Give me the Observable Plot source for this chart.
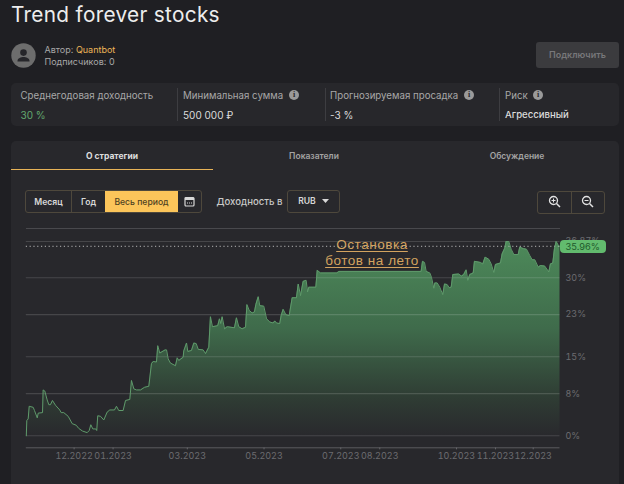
<!DOCTYPE html>
<html lang="ru">
<head>
<meta charset="utf-8">
<script src="https://cdn.jsdelivr.net/npm/d3@7"></script>
<script src="https://cdn.jsdelivr.net/npm/@observablehq/plot@0.6"></script>
<style>
html,body{margin:0;padding:0;background:#1f1f23;overflow:hidden}
#page{position:relative;width:624px;height:484px;font-family:Inter,"Noto Sans",sans-serif;color:#a8a8a8;overflow:hidden}
#page>*,.abs{position:absolute}
.t{white-space:nowrap;line-height:1}
.c{transform:translateX(-50%)}
.btn{box-sizing:border-box;height:100%;display:flex;align-items:center;justify-content:center;font-size:8.6px;font-weight:600;color:#d8d8d8}
.info{width:10px;height:10px;border-radius:50%;background:#9a9a9a;color:#26262a;font:700 8px/10px "Liberation Serif",serif;text-align:center}
#chart svg{display:block;background:transparent}
</style>
</head>
<body>
<div id="page">
  <div class="t" style="left:11px;top:5px;font-size:20.8px;color:#ededed;letter-spacing:.3px">Trend forever stocks</div>

  <svg style="left:11px;top:43px" width="25" height="25" viewBox="0 0 25 25">
    <circle cx="12.5" cy="12.5" r="12.2" fill="#6d6d6d"/>
    <circle cx="12.5" cy="9.6" r="3.3" fill="#26262a"/>
    <path d="M6.5 18c0-3 3.5-4 6-4s6 1 6 4v.5h-12z" fill="#26262a"/>
  </svg>
  <div class="t" style="left:44.5px;top:45px;font-size:9px">Автор: <span style="color:#eeb658">Quantbot</span></div>
  <div class="t" style="left:44.5px;top:57px;font-size:9px">Подписчиков: 0</div>
  <div style="left:536px;top:42px;width:83px;height:26px;background:#3b3b3e;border-radius:3px;color:#77777a;font-size:9px;font-weight:600;line-height:26px;text-align:center">Подключить</div>

  <div style="left:11px;top:83px;width:608px;height:43px;background:#27272b;border-radius:5px"></div>
  <div style="left:177px;top:88px;width:1px;height:33px;background:#3d3d41"></div>
  <div style="left:324.5px;top:88px;width:1px;height:33px;background:#3d3d41"></div>
  <div style="left:499px;top:88px;width:1px;height:33px;background:#3d3d41"></div>
  <div class="t" style="left:20.5px;top:90.5px;font-size:9.7px">Среднегодовая доходность</div>
  <div class="t" style="left:183px;top:90.5px;font-size:9.7px">Минимальная сумма</div>
  <div class="t" style="left:330px;top:90.5px;font-size:9.7px">Прогнозируемая просадка</div>
  <div class="t" style="left:505px;top:90.5px;font-size:9.7px">Риск</div>
  <div class="info" style="left:289px;top:90px">i</div>
  <div class="info" style="left:464px;top:90px">i</div>
  <div class="info" style="left:533px;top:90px">i</div>
  <div class="t" style="left:20.5px;top:109.5px;font-size:10px;color:#62a96f">30 %</div>
  <div class="t" style="left:183px;top:109.5px;font-size:10px;color:#dcdcdc">500 000 ₽</div>
  <div class="t" style="left:330px;top:109.5px;font-size:10px;color:#dcdcdc">-3 %</div>
  <div class="t" style="left:505px;top:109.5px;font-size:9.6px;color:#dcdcdc;font-weight:500">Агрессивный</div>

  <div style="left:11px;top:141px;width:608px;height:343px;background:#28282c;border-radius:5px 5px 0 0"></div>
  <div class="t c" style="left:112px;top:152px;font-size:8.5px;font-weight:700;color:#dedede">О стратегии</div>
  <div class="t c" style="left:314px;top:152px;font-size:8.5px;font-weight:600;color:#a4a4a4">Показатели</div>
  <div class="t c" style="left:517px;top:152px;font-size:8.5px;font-weight:600;color:#a4a4a4">Обсуждение</div>
  <div style="left:11px;top:168.5px;width:202px;height:1.2px;background:#e7b357"></div>

  <div style="left:25px;top:190px;width:177px;height:23px;box-sizing:border-box;border:1px solid #4e483c;border-radius:3px;display:flex;overflow:hidden">
    <div class="btn" style="width:46px;border-right:1px solid #4e483c">Месяц</div>
    <div class="btn" style="width:33px">Год</div>
    <div class="btn" style="width:73px;background:#fcc55a;color:#4f4222;font-weight:500">Весь период</div>
    <div class="btn" style="flex:1">
      <svg width="11" height="11" viewBox="0 0 11 11"><rect x="1" y="1.5" width="9" height="8.5" rx="1" fill="none" stroke="#d8d8d8" stroke-width="1.2"/><rect x="1" y="1.5" width="9" height="2.5" fill="#d8d8d8"/><path d="M3 7h5" stroke="#d8d8d8" stroke-dasharray="1 1"/></svg>
    </div>
  </div>
  <div class="t" style="left:216.5px;top:196.5px;font-size:9.6px;font-weight:500;color:#c8c8c8">Доходность в</div>
  <div style="left:287px;top:189.5px;width:53px;height:23px;box-sizing:border-box;border:1px solid #4e483c;border-radius:3px" class="btn">RUB<svg style="margin-left:6px" width="7" height="4" viewBox="0 0 7 4"><path d="M0 0h7L3.5 4z" fill="#d8d8d8"/></svg></div>
  <div style="left:537px;top:190.5px;width:68px;height:23px;box-sizing:border-box;border:1px solid #4e483c;border-radius:3px"></div>
  <div style="left:571px;top:191px;width:1px;height:22px;background:#4e483c"></div>
  <svg style="left:548px;top:195px" width="13" height="13" viewBox="0 0 13 13"><circle cx="5.5" cy="5.5" r="4" fill="none" stroke="#e2e2e2" stroke-width="1.3"/><path d="M8.5 8.5l3.5 3.5" stroke="#e2e2e2" stroke-width="1.5"/><path d="M3.5 5.5h4M5.5 3.5v4" stroke="#e2e2e2"/></svg>
  <svg style="left:581px;top:195px" width="13" height="13" viewBox="0 0 13 13"><circle cx="5.5" cy="5.5" r="4" fill="none" stroke="#e2e2e2" stroke-width="1.3"/><path d="M8.5 8.5l3.5 3.5" stroke="#e2e2e2" stroke-width="1.5"/><path d="M3.5 5.5h4" stroke="#e2e2e2"/></svg>

  <div style="left:25.8px;top:228px;width:534px;height:1px;background:#49494d"></div>
  <div id="chart" style="left:0;top:0"></div>

  <div style="left:560px;top:239.5px;width:45.5px;height:13px;background:#62bb6e;border-radius:4px;color:#1f5a2c;font-size:9.3px;line-height:13px;text-align:center">35.96%</div>
  <div class="t" style="left:372px;top:237px;transform:translateX(-50%);font-family:'Liberation Sans',sans-serif;font-size:13.5px;line-height:16px;letter-spacing:.55px;color:#d3a35f;text-align:center;text-decoration:underline;text-underline-offset:2px">Остановка<br>ботов на лето</div>
</div>

<script>
// Days elapsed since the start of the series
const startDate = "2022-10-24";
const dayOffsets = [0,0.4,1.5,2.3,5.5,6.5,8.7,9.5,12.9,13.4,14.7,16.6,17.9,19.2,20.8,23.2,26.6,27.7,29.8,33.3,36.5,39.7,41.7,44.7,48.4,50,51.3,52.9,55.3,56,56.8,59,61.6,64.3,66.4,70.1,71.7,73.5,77,78.9,82.3,83.6,85.5,87.6,90.8,94,97.4,99.5,100.9,103.5,104.5,106.1,110.4,111.5,112.8,114.6,118.6,120,121.2,124.7,125.2,127.4,128.4,131.3,133.2,135.1,136.7,140.6,142.5,145.1,146.4,148,152.2,153.6,154.6,155.7,157.6,159.7,165.5,167.1,168.9,171.6,174.3,175.4,177.2,179.6,181.4,182.5,184.4,185.6,188.8,191,193.6,196.3,197.6,198.9,201.5,202.6,204.2,206.3,209,211.4,214.8,216.2,218,220.1,222.5,223.6,224.6,230.2,231.3,233.9,247.2,248.4,313.9,315,316.6,317.9,320.8,322.1,324,324.8,326.7,328.7,331.1,332.5,334.6,336.2,337.8,339.1,343.8,346,347.8,349.7,351,352.6,355.3,356.3,361.1,362.9,364.8,367.7,369.6,371.7,373,377,378.3,380.4,381.5,383.6,385.5,387.6,391.1,392.3,395.5,397.7,400.3,402.2,404.3,407,408.8,412.2,415.4,416.7,418.6,419.9,421.3,423.3,424.3];
// Cumulative return, percent
const returnsPct = [0,2.9,3.2,5.6,5.4,4.8,3.4,4.3,4.4,8.7,8.5,6.8,5.9,5.9,6.7,5.8,4.9,4.4,4.4,3.7,2.3,2.0,1.4,0.9,0.6,1.0,2.1,1.3,1.3,1.0,3.8,3.7,3.0,4.5,4.9,4.9,5.6,4.8,4.8,6.7,6.9,10.5,8.9,8.7,8.7,9.2,9.4,13.7,14.1,14.0,17.1,15.7,16.3,16.3,14.6,13.8,13.3,14.8,14.3,14.9,16.1,17.6,16.0,16.2,17.6,17.5,16.4,16.3,15.6,16.8,22.6,20.7,20.9,22.2,21.3,22.6,20.3,20.7,20.5,22.4,20.7,20.3,20.6,24.9,23.8,23.3,23.5,24.9,26.4,24.7,24.6,22.2,21.6,21.4,21.8,21.4,21.3,22.8,24.0,23.0,22.8,26.2,26.2,28.8,26.6,29.3,29.5,27.3,28.2,28.2,31.4,30.9,30.9,31.2,31.2,33.1,32.9,31.2,30.9,30.1,28.0,29.0,29.0,28.2,26.8,28.8,28.7,28.1,28.2,30.6,30.7,30.3,30.6,31.5,29.5,30.6,30.9,33.1,32.9,32.6,33.9,33.5,32.6,31.0,32.5,32.8,34.5,35.6,36.87,36.87,35.4,34.4,34.4,35.8,35.5,35.4,34.2,33.4,33.4,32.0,32.3,32.2,31.1,32.6,32.8,35.5,36.87,36.0,35.96];
const yTicks = [0,8,15,23,30,36.87];
const xTicks = ["2022-12-01","2023-01-01","2023-03-01","2023-05-01","2023-07-01","2023-08-01","2023-10-01","2023-11-01","2023-12-01"];
const currentValue = 35.96;

const t0 = new Date(startDate + "T00:00:00Z");
const series = dayOffsets.map((d, i) => ({date: new Date(+t0 + d * 864e5), value: returnsPct[i]}));

const gradient = () => {
  const defs = d3.create("svg:defs");
  const g = defs.append("linearGradient").attr("id", "areaFill").attr("x1", 0).attr("x2", 0).attr("y1", 0).attr("y2", 1);
  [[0, "#4d8a5a"], [0.45, "#3f6b4b"], [0.8, "#2f3d34"], [1, "#29292d"]].forEach(([o, c]) =>
    g.append("stop").attr("offset", o).attr("stop-color", c));
  return defs.node();
};

const chart = Plot.plot({
  width: 624, height: 484,
  marginLeft: 25.8, marginRight: 64.5, marginTop: 241, marginBottom: 36.7,
  style: {background: "transparent", fontFamily: "Inter, sans-serif"},
  x: {type: "utc", domain: [series[0].date, series[series.length - 1].date], range: [25.8, 559.5]},
  y: {domain: [0, 36.87], range: [435.3, 241]},
  marks: [
    gradient,
    Plot.areaY(series, {x: "date", y: "value", fill: "url(#areaFill)"}),
    Plot.ruleY(yTicks, {stroke: "#ffffff", strokeOpacity: 0.14, strokeWidth: 1.1}),
    Plot.ruleY([currentValue], {stroke: "#b5b5b5", strokeDasharray: "1.2,2.6", strokeWidth: 1}),
    Plot.line(series, {x: "date", y: "value", stroke: "#5f9a6b", strokeWidth: 1}),
    Plot.axisY({anchor: "right", ticks: yTicks, tickSize: 0, tickPadding: 5.5, label: null, fontSize: 9, color: "#6c6c70", tickFormat: d => (Number.isInteger(d) ? d : d.toFixed(2)) + "%"}),
    Plot.axisX({anchor: "bottom", ticks: xTicks.map(d => new Date(d + "T00:00:00Z")), tickSize: 2, tickPadding: 3, label: null, fontSize: 9, color: "#6c6c70", tickFormat: d3.utcFormat("%m.%Y")}),
    Plot.ruleY([0], {stroke: "#5a5a5e", strokeWidth: 1, dy: 12})
  ]
});
document.getElementById("chart").append(chart);
</script>
</body>
</html>
